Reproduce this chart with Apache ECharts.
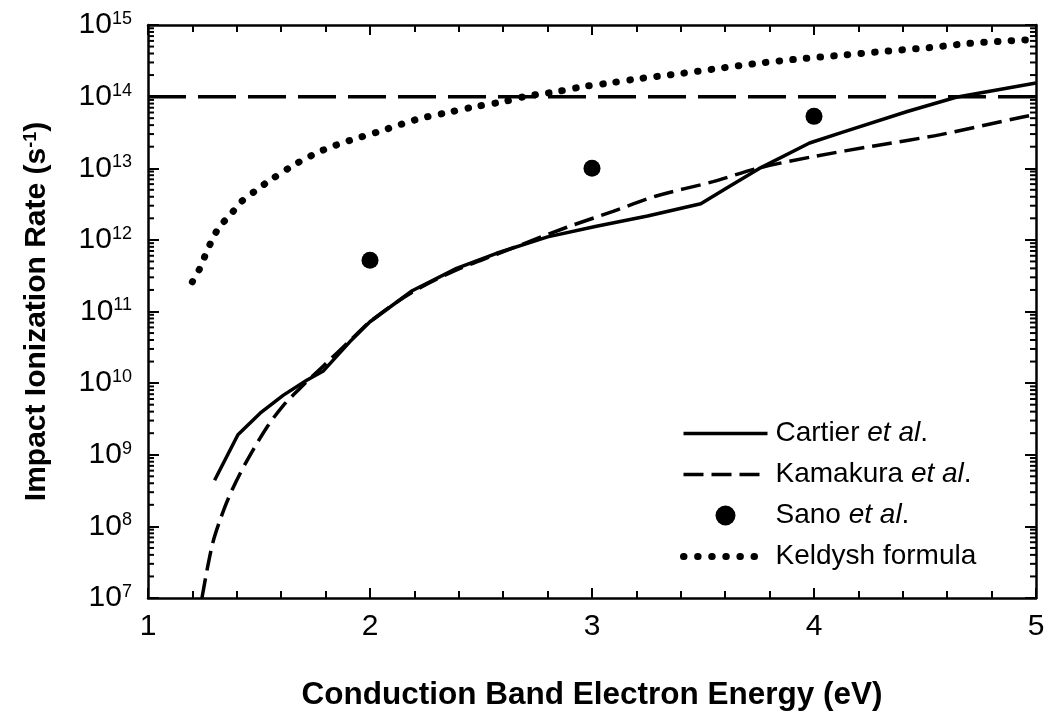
<!DOCTYPE html>
<html>
<head>
<meta charset="utf-8">
<script src="https://cdn.jsdelivr.net/npm/echarts@6/dist/echarts.min.js"></script>
<style>
  html, body { margin: 0; padding: 0; background: #fff; }
  #chart { width: 1049px; height: 716px; }
</style>
</head>
<body>
<div id="chart"></div>
<script>
// Electron energy in the conduction band (eV) and impact ionization rate (1/s)
const cartierE = [1.30, 1.405, 1.505, 1.61, 1.715, 1.79, 1.91, 2.00, 2.19, 2.39, 2.57, 2.80, 3.02, 3.25, 3.49, 3.62, 3.75, 3.98, 4.13, 4.42, 4.64, 5.00];
const cartierRate = [4.4e8, 1.9e9, 3.8e9, 6.8e9, 1.1e10, 1.48e10, 3.8e10, 7.2e10, 1.95e11, 4.0e11, 6.5e11, 1.1e12, 1.55e12, 2.15e12, 3.2e12, 5.6e12, 9.8e12, 2.25e13, 3.2e13, 6.2e13, 9.8e13, 1.55e14];

const kamakuraE = [1.243, 1.29, 1.34, 1.384, 1.446, 1.535, 1.61, 1.685, 1.79, 1.92, 2.00, 2.19, 2.39, 2.57, 2.887, 3.095, 3.29, 3.545, 3.757, 4.01, 4.27, 4.57, 4.94, 5.00];
const kamakuraRate = [1.0e7, 5.6e7, 1.66e8, 3.5e8, 8.3e8, 2.4e9, 4.9e9, 8.5e9, 1.74e10, 4.2e10, 7.2e10, 1.86e11, 3.8e11, 6.3e11, 1.5e12, 2.5e12, 4.1e12, 6.5e12, 1.02e13, 1.48e13, 2.05e13, 2.95e13, 5.2e13, 5.6e13];

const sanoE = [2, 3, 4];
const sanoRate = [5.2e11, 1.0e13, 5.3e13];

const keldyshE = [1.20, 1.23, 1.257, 1.284, 1.32, 1.369, 1.42, 1.486, 1.55, 1.67, 1.79, 1.91, 2.04, 2.22, 2.35, 2.47, 2.60, 2.71, 2.84, 2.96, 3.08, 3.21, 3.40, 3.58, 3.76, 3.95, 4.13, 4.32, 4.51, 4.69, 4.87, 5.00];
const keldyshRate = [2.6e11, 3.8e11, 6.0e11, 9.3e11, 1.5e12, 2.2e12, 3.4e12, 4.9e12, 6.8e12, 1.17e13, 1.8e13, 2.45e13, 3.25e13, 4.9e13, 6.0e13, 7.2e13, 8.5e13, 1.02e14, 1.17e14, 1.38e14, 1.55e14, 1.78e14, 2.1e14, 2.5e14, 2.95e14, 3.4e14, 3.8e14, 4.3e14, 4.8e14, 5.5e14, 6.0e14, 6.3e14];

// constant reference level
const levelE = [1, 5];
const levelRate = [1e14, 1e14];

const xTicks = [1, 2, 3, 4, 5];
const decadeExponents = [7, 8, 9, 10, 11, 12, 13, 14, 15];
const minorMultipliers = [2, 3, 4, 5, 6, 7, 8, 9];

const FONT = 'Liberation Sans, Arial, Helvetica, sans-serif';
const zip = (xs, ys) => xs.map((x, i) => [x, ys[i]]);

// log-axis minor tick positions (2..9 within each decade)
const yMinorTicks = [];
decadeExponents.slice(0, -1).forEach(e => {
  minorMultipliers.forEach(m => yMinorTicks.push([xTicks[0], m * Math.pow(10, e)]));
});

const chart = echarts.init(document.getElementById('chart'), null, { renderer: 'canvas' });

const xAxisBase = {
  type: 'value', min: xTicks[0], max: xTicks[xTicks.length - 1], interval: 1,
  axisLine: { show: true, onZero: false, lineStyle: { color: '#000', width: 2.5 } },
  axisTick: { show: true, inside: true, length: 10, lineStyle: { color: '#000', width: 2 } },
  minorTick: { show: true, splitNumber: 5, length: 7, lineStyle: { color: '#000', width: 2 } },
  splitLine: { show: false }
};
const yAxisBase = {
  type: 'log', logBase: 10, min: 1e7, max: 1e15, interval: 1,
  axisLine: { show: true, onZero: false, lineStyle: { color: '#000', width: 2.5 } },
  axisTick: { show: true, inside: true, length: 11, lineStyle: { color: '#000', width: 2 } },
  minorTick: { show: false },
  splitLine: { show: false }
};

const MINOR_LEN = 6;

chart.setOption({
  animation: false,
  backgroundColor: '#fff',
  grid: { left: 148, right: 13, top: 25, bottom: 115, containLabel: false },
  xAxis: [
    Object.assign({}, xAxisBase, {
      position: 'bottom',
      axisLabel: { show: true, margin: 14, color: '#000', fontSize: 30, fontFamily: FONT },
      name: 'Conduction Band Electron Energy (eV)',
      nameLocation: 'middle', nameGap: 81,
      nameTextStyle: { color: '#000', fontSize: 31.5, fontWeight: 'bold', fontFamily: FONT }
    }),
    Object.assign({}, xAxisBase, { position: 'top', axisLabel: { show: false } })
  ],
  yAxis: [
    Object.assign({}, yAxisBase, {
      position: 'left',
      axisLabel: {
        show: true, margin: 16, color: '#000', fontFamily: FONT,
        formatter: v => '{b|10}{s|' + Math.round(Math.log10(v)) + '}',
        rich: {
          b: { fontSize: 30, fontFamily: FONT, color: '#000' },
          s: { fontSize: 18, fontFamily: FONT, color: '#000', verticalAlign: 'top' }
        }
      },
      name: '{t|Impact Ionization Rate (s}{s|-1}{t|)}',
      nameLocation: 'middle', nameRotate: 90, nameGap: 96,
      nameTextStyle: {
        color: '#000', fontFamily: FONT, fontWeight: 'bold',
        rich: {
          t: { fontSize: 30, fontWeight: 'bold', fontFamily: FONT, color: '#000' },
          s: { fontSize: 18, fontWeight: 'bold', fontFamily: FONT, color: '#000', verticalAlign: 'top' }
        }
      }
    }),
    Object.assign({}, yAxisBase, { position: 'right', axisLabel: { show: false } })
  ],
  legend: {
    orient: 'vertical', left: 675, top: 413,
    itemWidth: 84, itemHeight: 20, itemGap: 10,
    data: [
      { name: 'Cartier', itemStyle: { opacity: 0 }, lineStyle: { width: 3.5, color: '#000' } },
      { name: 'Kamakura', itemStyle: { opacity: 0 }, lineStyle: { width: 3.5, color: '#000', type: [20, 8] } },
      { name: 'Sano', itemStyle: { color: '#000', opacity: 1 } },
      { name: 'Keldysh formula', itemStyle: { opacity: 0 }, lineStyle: { width: 7, color: '#000', type: [0.5, 13.6], cap: 'round' } }
    ],
    formatter: name => name === 'Keldysh formula' ? name : name + ' {i|et al}.',
    textStyle: {
      color: '#000', fontSize: 28, fontFamily: FONT, lineHeight: 31, padding: [0, 0, 0, 3],
      rich: { i: { fontSize: 28, fontFamily: FONT, fontStyle: 'italic', color: '#000' } }
    }
  },
  series: [
    {
      name: 'level', type: 'line', data: zip(levelE, levelRate), symbol: 'none',
      lineStyle: { color: '#000', width: 3.5, type: [38, 12] }, silent: true, z: 2
    },
    {
      name: 'Keldysh formula', type: 'line', data: zip(keldyshE, keldyshRate), symbol: 'none', smooth: 0.3,
      itemStyle: { color: '#000' },
      lineStyle: { color: '#000', width: 7, type: [0.5, 13.2], cap: 'round' }, z: 3
    },
    {
      name: 'Cartier', type: 'line', data: zip(cartierE, cartierRate), symbol: 'none',
      itemStyle: { color: '#000' },
      lineStyle: { color: '#000', width: 3.5, type: 'solid' }, z: 4
    },
    {
      name: 'Kamakura', type: 'line', data: zip(kamakuraE, kamakuraRate), symbol: 'none', smooth: 0.3,
      itemStyle: { color: '#000' },
      lineStyle: { color: '#000', width: 3.5, type: [20, 8] }, z: 4
    },
    {
      name: 'Sano', type: 'scatter', data: zip(sanoE, sanoRate), symbol: 'circle', symbolSize: 17,
      itemStyle: { color: '#000', opacity: 1 }, z: 5
    },
    {
      // minor ticks of the logarithmic axes, on the left and right frame edges
      name: 'yMinor', type: 'custom', data: yMinorTicks, silent: true, z: 6,
      renderItem: (params, api) => {
        const v = api.value(1);
        const l = api.coord([xTicks[0], v]);
        const r = api.coord([xTicks[xTicks.length - 1], v]);
        const style = { stroke: '#000', lineWidth: 2 };
        return {
          type: 'group',
          children: [
            { type: 'line', shape: { x1: l[0], y1: l[1], x2: l[0] + MINOR_LEN, y2: l[1] }, style },
            { type: 'line', shape: { x1: r[0], y1: r[1], x2: r[0] - MINOR_LEN, y2: r[1] }, style }
          ]
        };
      }
    }
  ]
});
</script>
</body>
</html>
